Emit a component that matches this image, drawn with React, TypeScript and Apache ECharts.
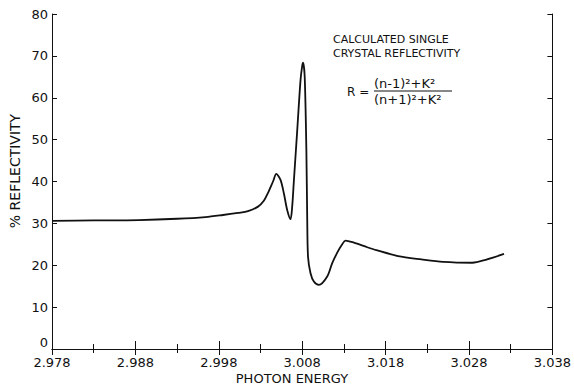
import React, { useEffect, useRef } from "react";
import * as echarts from "echarts";

// Photon energy (x) and calculated reflectivity in % (y)
const energy = [
  2.978, 2.983, 2.9884, 2.993, 2.9964, 2.9985, 3.0003, 3.0015, 3.0027, 3.0034,
  3.0039, 3.0045, 3.0049, 3.0054, 3.0058, 3.0062, 3.0066, 3.0068, 3.007, 3.0074,
  3.0078, 3.008, 3.0081, 3.0083, 3.0085, 3.0086, 3.0087, 3.009, 3.0094, 3.01,
  3.011, 3.0116, 3.0122, 3.0128, 3.0132, 3.0142, 3.0158, 3.0169, 3.0195, 3.0223,
  3.0249, 3.0284, 3.03, 3.0322,
];
const reflectivity = [
  30.6, 30.7, 30.8, 31.1, 31.5, 32.0, 32.5, 32.9, 34.0, 35.4,
  37.3, 40.0, 41.8, 40.4, 37.2, 33.2, 31.0, 34.0, 40.1, 52.1,
  64.2, 67.6, 68.4, 65.0, 47.5, 31.6, 22.0, 18.1, 16.1, 15.3,
  17.3, 20.5, 23.0, 25.0, 25.9, 25.4, 24.3, 23.6, 22.2, 21.4,
  20.8, 20.6, 21.3, 22.7,
];

const xMin = 2.978;
const xMax = 3.038;
const xStep = 0.01;
const yMin = 0;
const yMax = 80;
const yStep = 10;

const titleLines = ["CALCULATED SINGLE", "CRYSTAL REFLECTIVITY"];
const formulaLeft = "R =";
const formulaNum = "(n-1)²+K²";
const formulaDen = "(n+1)²+K²";
const xName = "PHOTON ENERGY";
const yName = "% REFLECTIVITY";
const yZeroLabel = "0";

const INK = "#111";
const FONT = "DejaVu Sans";

export default function App() {
  const ref = useRef<HTMLDivElement>(null);

  useEffect(() => {
    if (!ref.current) return;
    const chart = echarts.init(ref.current, undefined, { renderer: "svg" });
    const axisLine = { show: true, lineStyle: { color: INK, width: 1 } };
    const option: any = {
      animation: false,
      backgroundColor: "#fff",
      grid: { left: 52, right: 17, top: 14, bottom: 36, containLabel: false },
      xAxis: [
        {
          type: "value",
          position: "bottom",
          min: xMin,
          max: xMax,
          interval: xStep,
          axisLine,
          axisTick: { show: true, inside: true, length: 8, lineStyle: { color: INK } },
          minorTick: { show: true, splitNumber: 2, length: 5, lineStyle: { color: INK } },
          splitLine: { show: false },
          axisLabel: {
            formatter: (v: number) => v.toFixed(3),
            color: INK,
            fontSize: 13,
            fontFamily: FONT,
            margin: 7,
          },
        },
        {
          type: "value",
          position: "top",
          min: xMin,
          max: xMax,
          interval: xStep,
          axisLine,
          axisTick: { show: true, inside: true, length: 6, lineStyle: { color: INK } },
          minorTick: { show: true, splitNumber: 2, length: 4, lineStyle: { color: INK } },
          splitLine: { show: false },
          axisLabel: { show: false },
        },
      ],
      yAxis: [
        {
          type: "value",
          position: "left",
          min: yMin,
          max: yMax,
          interval: yStep,
          axisLine,
          axisTick: { show: true, inside: true, length: 5, lineStyle: { color: INK } },
          splitLine: { show: false },
          axisLabel: {
            color: INK,
            fontSize: 13,
            fontFamily: FONT,
            margin: 4,
            formatter: (v: number) => (v === 0 ? "" : String(v)),
          },
        },
        {
          type: "value",
          position: "right",
          min: yMin,
          max: yMax,
          interval: yStep,
          axisLine,
          axisTick: { show: true, inside: true, length: 5, lineStyle: { color: INK } },
          splitLine: { show: false },
          axisLabel: { show: false },
        },
      ],
      series: [
        {
          type: "line",
          xAxisIndex: 0,
          yAxisIndex: 0,
          data: energy.map((e, i) => [e, reflectivity[i]]),
          showSymbol: false,
          smooth: 0.3,
          lineStyle: { color: INK, width: 1.8 },
        },
      ],
      graphic: [
        {
          type: "text",
          x: 48,
          y: 342,
          style: {
            text: yZeroLabel,
            fill: INK,
            font: `13px "${FONT}"`,
            align: "right",
            verticalAlign: "middle",
          },
        },
        {
          type: "text",
          x: 15,
          y: 171,
          rotation: Math.PI / 2,
          style: {
            text: yName,
            fill: INK,
            font: `14px "${FONT}"`,
            align: "center",
            verticalAlign: "middle",
          },
        },
        {
          type: "text",
          x: 292,
          y: 378,
          style: {
            text: xName,
            fill: INK,
            font: `13px "${FONT}"`,
            align: "center",
            verticalAlign: "middle",
          },
        },
        {
          type: "text",
          x: 333,
          y: 39.5,
          style: { text: titleLines[0], fill: INK, font: `11px "${FONT}"`, align: "left", verticalAlign: "middle" },
        },
        {
          type: "text",
          x: 333,
          y: 53,
          style: { text: titleLines[1], fill: INK, font: `11px "${FONT}"`, align: "left", verticalAlign: "middle" },
        },
        {
          type: "text",
          x: 347,
          y: 92,
          style: { text: formulaLeft, fill: INK, font: `12px "${FONT}"`, align: "left", verticalAlign: "middle" },
        },
        {
          type: "text",
          x: 374,
          y: 83,
          style: { text: formulaNum, fill: INK, font: `13px "${FONT}"`, align: "left", verticalAlign: "middle" },
        },
        {
          type: "line",
          shape: { x1: 374, y1: 91, x2: 452, y2: 91 },
          style: { stroke: INK, lineWidth: 1 },
        },
        {
          type: "text",
          x: 374,
          y: 99,
          style: { text: formulaDen, fill: INK, font: `13px "${FONT}"`, align: "left", verticalAlign: "middle" },
        },
      ],
    };
    chart.setOption(option);
    return () => chart.dispose();
  }, []);

  return (
    <div
      ref={ref}
      style={{ position: "fixed", left: 0, top: 0, width: 574, height: 385, background: "#fff" }}
    />
  );
}
